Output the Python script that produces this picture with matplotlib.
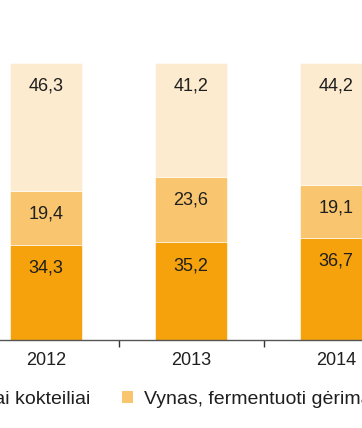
import numpy as np
import matplotlib
matplotlib.use('Agg')
import matplotlib.pyplot as plt
from matplotlib.patches import Patch

plt.rcParams['font.family'] = ['Liberation Sans', 'DejaVu Sans']

years = ['2012', '2013', '2014']
spirits = [34.3, 35.2, 36.7]
wine = [19.4, 23.6, 19.1]
beer = [46.3, 41.2, 44.2]

series_names = ['Stiprieji alkoholiniai gėrimai, alkoholiniai kokteiliai',
                'Vynas, fermentuoti gėrimai',
                'Alus']
colors = ['#f5a20c', '#f9c66f', '#fdebcf']
text_color = '#1f1f1f'

W, H, DPI = 362, 428, 100
fig = plt.figure(figsize=(W / DPI, H / DPI), dpi=DPI)

# axes spans the full width; the chart is cropped on both sides
ax = fig.add_axes([0, 88 / H, 1, 277 / H])
step = 145.0
ax.set_xlim(-46 / step, (W - 46) / step)
ax.set_ylim(0, 100)

x = np.arange(len(years))
bottom = np.zeros(len(years))
for vals, col in zip([spirits, wine, beer], colors):
    vals = np.array(vals)
    ax.bar(x, vals, width=0.5, bottom=bottom, color=col,
           edgecolor='#ffffff', linewidth=0.4)
    for xi, b, v in zip(x, bottom, vals):
        ax.annotate(f'{v:.1f}'.replace('.', ','), (xi, b + v),
                    xytext=(0, -16.6), textcoords='offset points',
                    ha='center', va='center', fontsize=13, color=text_color)
    bottom += vals

for side in ['left', 'right', 'top']:
    ax.spines[side].set_visible(False)
ax.spines['bottom'].set_color('#555555')
ax.spines['bottom'].set_linewidth(1.0)
ax.set_yticks([])

ax.set_xticks(x[:-1] + 0.5)
ax.set_xticklabels([])
ax.tick_params(axis='x', which='major', length=5, width=1.0,
               color='#333333', direction='out')
ax.set_xticks(x, minor=True)
ax.set_xticklabels(years, minor=True)
ax.tick_params(axis='x', which='minor', length=0, pad=8.8,
               labelsize=13, labelcolor=text_color)

handles = [Patch(facecolor=c, edgecolor='none') for c in colors]
leg = fig.legend(handles, series_names, ncol=3, loc='center left',
                 bbox_to_anchor=(0, (H - 399) / H), frameon=False,
                 fontsize=14, handlelength=0.58, handleheight=0.58,
                 handletextpad=0.58, columnspacing=1.6,
                 labelcolor=text_color, borderpad=0, borderaxespad=0)

# shift the legend so that the second swatch lands where it does in the crop
fig.canvas.draw()
x0 = leg.legend_handles[1].get_window_extent().x0
leg.set_bbox_to_anchor(((121.5 - x0) / W, (H - 399) / H), transform=fig.transFigure)

fig.savefig('out.png', dpi=DPI)
